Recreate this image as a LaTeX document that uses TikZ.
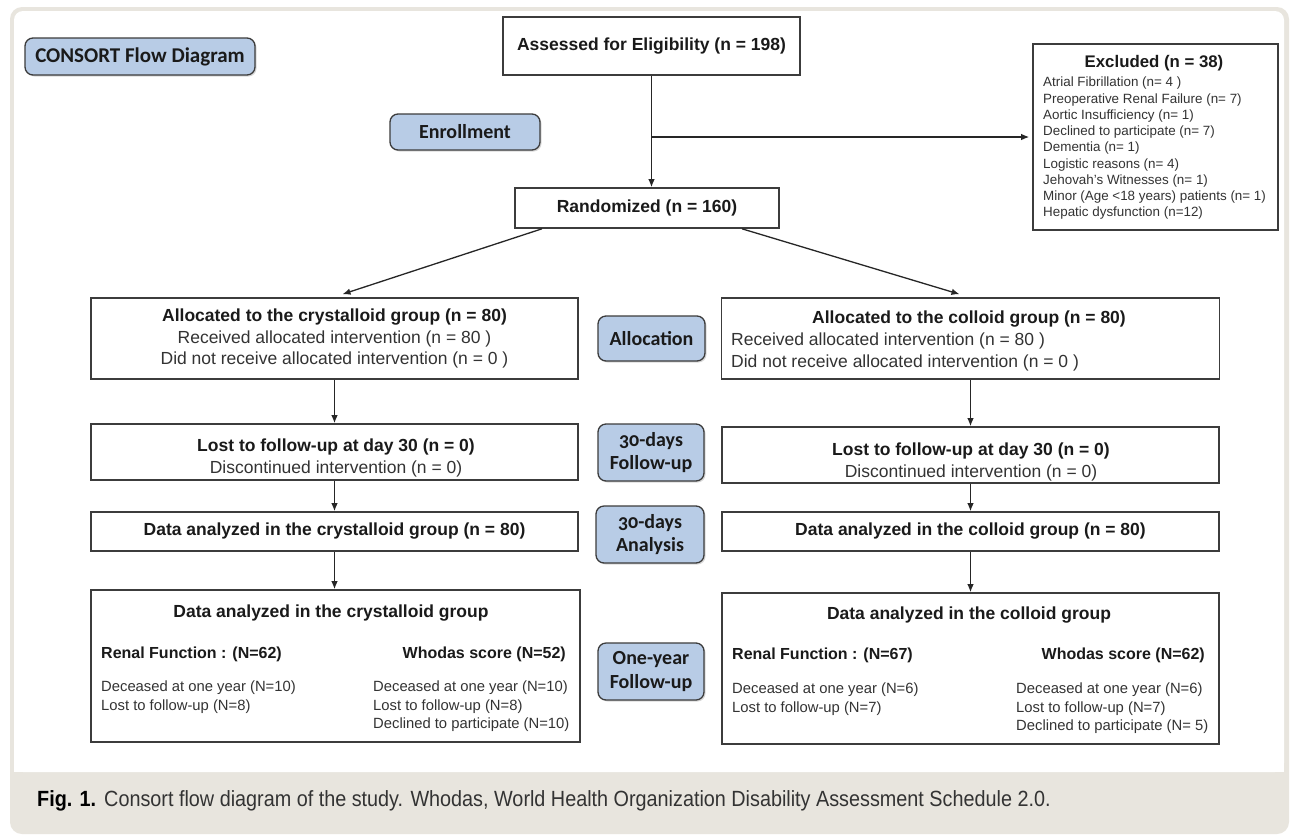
\documentclass[tikz,border=0pt]{standalone}
\usepackage{fontspec}
\setmainfont{Liberation Sans}
\newfontfamily\lblfont[Numbers=OldStyle]{Carlito}
\newfontfamily\capfont[FakeStretch=0.9]{Liberation Sans}
\usetikzlibrary{arrows.meta,shadows,calc}
\definecolor{beige}{HTML}{E8E5DE}
\definecolor{boxline}{HTML}{3C3C3C}
\definecolor{lblfill}{HTML}{B8CCE6}
\definecolor{txt}{HTML}{1A1A1A}
\definecolor{txtr}{HTML}{333333}
\newcommand\fTitle{\bfseries\fontsize{17.5}{21.5}\selectfont}
\newcommand\fReg{\fontsize{17.5}{21.5}\selectfont}
\newcommand\fSub{\bfseries\fontsize{16}{19}\selectfont}
\newcommand\fSmall{\fontsize{14.8}{18.5}\selectfont}
\newcommand\fList{\fontsize{13.4}{16.25}\selectfont}
\begin{document}
\begin{tikzpicture}[x=1pt,y=-1pt,
  box/.style={draw=boxline, line width=1.6pt, fill=white, inner sep=0pt, align=center, text=txt},
  lbl/.style={draw=boxline, line width=1.3pt, fill=lblfill, rounded corners=8pt, inner sep=0pt, align=center, text=txt,
    font=\lblfont\bfseries\fontsize{20}{23.5}\selectfont,
    drop shadow={shadow xshift=1.5pt, shadow yshift=-1.5pt, opacity=0.3}},
  txtnode/.style={inner sep=0pt, text=txtr},
  arr/.style={draw=black!85, line width=1.3pt, -{Latex[length=8pt,width=6.5pt]}}]
\useasboundingbox (0,0) rectangle (1290,839);
\fill[white] (0,0) rectangle (1290,839);
\fill[beige, rounded corners=12pt] (10,7) rectangle (1289,834);
\fill[white, rounded corners=9pt] (14,11) rectangle (1284,772);
\fill[white] (14,700) rectangle (1284,772);

\node[lbl, minimum width=230, minimum height=37, font=\lblfont\bfseries\fontsize{21}{23.5}\selectfont] (consort) at (140,56.5) {CONSORT Flow Diagram};
\node[box, font=\fTitle, minimum width=297, minimum height=58] (assessed) at (651.5,46) {Assessed for Eligibility (n = 198)};
\node[lbl, minimum width=150, minimum height=36] (enroll) at (465,132) {Enrollment};

\node[box, minimum width=245, minimum height=186] (excl) at (1155.5,137) {};
\node[txtnode, text=txt, font=\bfseries\fontsize{16.8}{19}\selectfont] (exclT) at (1154,63) {Excluded (n = 38)};
\node[txtnode, anchor=north west, align=left, font=\fList] (exclL) at (1043,77) {Atrial Fibrillation (n= 4 )\\Preoperative Renal Failure (n= 7)\\Aortic Insufficiency (n= 1)\\Declined to participate (n= 7)\\Dementia (n= 1)\\Logistic reasons (n= 4)\\Jehovah's Witnesses (n= 1)\\Minor (Age <18 years) patients (n= 1)\\Hepatic dysfunction (n=12)};

\node[box, font=\fTitle, minimum width=264, minimum height=40] (rand) at (647,208) {Randomized (n = 160)};

\node[box, minimum width=487, minimum height=81, font=\fReg, text=txtr] (allocL) at (334.5,338.5) {{\color{txt}\fTitle Allocated to the crystalloid group (n = 80)}\\Received allocated intervention (n = 80 )\\Did not receive allocated intervention (n = 0 )};
\node[lbl, minimum width=107, minimum height=45] (alloc) at (651.5,338.5) {Allocation};
\node[box, minimum width=498, minimum height=81] (allocR) at (970.5,338.5) {};
\node[txtnode, text=txt, font=\fTitle] (allocRt) at (969,319) {Allocated to the colloid group (n = 80)};
\node[txtnode, anchor=west, align=left, font=\fReg] (allocRl) at (731,352) {Received allocated intervention (n = 80 )\\Did not receive allocated intervention (n = 0 )};

\node[box, minimum width=487, minimum height=56] (lostL) at (334.5,452) {};
\node[txtnode, align=center, font=\fReg] (lostLt) at (336,458) {{\color{txt}\fTitle Lost to follow-up at day 30 (n = 0)}\\Discontinued intervention (n = 0)};
\node[lbl, minimum width=106, minimum height=57] (fol30) at (651,452.5) {30-days\\Follow-up};
\node[box, minimum width=497, minimum height=56] (lostR) at (970.5,455) {};
\node[txtnode, align=center, font=\fReg] (lostRt) at (971,462) {{\color{txt}\fTitle Lost to follow-up at day 30 (n = 0)}\\Discontinued intervention (n = 0)};

\node[box, minimum width=487, minimum height=39, font=\fTitle] (dataL) at (334.5,531.5) {Data analyzed in the crystalloid group (n = 80)};
\node[lbl, minimum width=108, minimum height=57] (ana30) at (650,534.5) {30-days\\Analysis};
\node[box, minimum width=497, minimum height=39, font=\fTitle] (dataR) at (970.5,531.5) {Data analyzed in the colloid group (n = 80)};

\node[box, minimum width=489, minimum height=152] (finL) at (335.5,666) {};
\node[txtnode, text=txt, font=\fTitle] (finLt) at (331,613.5) {Data analyzed in the crystalloid group};
\node[txtnode, text=txt, anchor=west, font=\fSub] (finLr) at (101,654) {Renal Function : (N=62)};
\node[txtnode, text=txt, anchor=east, font=\fSub] (finLw) at (566,654) {Whodas score (N=52)};
\node[txtnode, anchor=north west, align=left, font=\fSmall] (finLa) at (101,681) {Deceased at one year (N=10)\\Lost to follow-up (N=8)};
\node[txtnode, anchor=north west, align=left, font=\fSmall] (finLb) at (373,681) {Deceased at one year (N=10)\\Lost to follow-up (N=8)\\Declined to participate (N=10)};

\node[lbl, minimum width=106, minimum height=57] (one) at (651,671.5) {One-year\\Follow-up};

\node[box, minimum width=497, minimum height=151] (finR) at (970.5,668.5) {};
\node[txtnode, text=txt, font=\fTitle] (finRt) at (969,615.5) {Data analyzed in the colloid group};
\node[txtnode, text=txt, anchor=west, font=\fSub] (finRr) at (732,655) {Renal Function : (N=67)};
\node[txtnode, text=txt, anchor=east, font=\fSub] (finRw) at (1205,655) {Whodas score (N=62)};
\node[txtnode, anchor=north west, align=left, font=\fSmall] (finRa) at (732,683) {Deceased at one year (N=6)\\Lost to follow-up (N=7)};
\node[txtnode, anchor=north west, align=left, font=\fSmall] (finRb) at (1016,683) {Deceased at one year (N=6)\\Lost to follow-up (N=7)\\Declined to participate (N= 5)};

\draw[arr] (assessed.south) -- (assessed.south |- rand.north);
\draw[arr] (assessed.south |- excl.west) -- ([xshift=-3pt]excl.west);
\draw[arr] ([xshift=-105pt]rand.south) -- ([xshift=8pt,yshift=3pt]allocL.north);
\draw[arr] ([xshift=95pt]rand.south) -- ([xshift=-11pt,yshift=3pt]allocR.north);
\draw[arr] (allocL.south) -- (lostL.north);
\draw[arr] (allocR.south) -- (lostR.north);
\draw[arr] (lostL.south) -- (dataL.north);
\draw[arr] (lostR.south) -- (dataR.north);
\draw[arr] (dataL.south) -- (dataL.south |- finL.north);
\draw[arr] (dataR.south) -- (finR.north);

\node[anchor=west, inner sep=0pt, font=\capfont\fontsize{22}{24}\selectfont, text=txtr] (cap) at (37,801) {{\color{black}\bfseries Fig. 1.}\hspace{8pt}Consort flow diagram of the study. Whodas, World Health Organization Disability Assessment Schedule 2.0.};
\end{tikzpicture}
\end{document}
